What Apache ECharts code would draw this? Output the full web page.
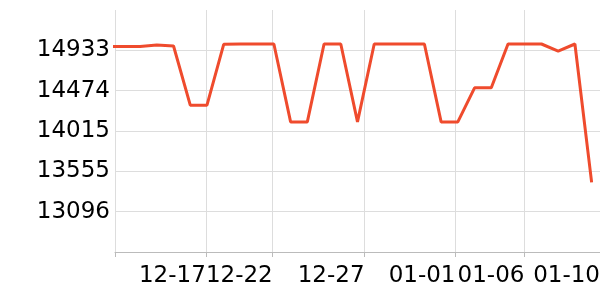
<!DOCTYPE html>
<html>
<head>
<meta charset="utf-8">
<script src="https://cdn.jsdelivr.net/npm/echarts@6/dist/echarts.min.js"></script>
<style>
html,body{margin:0;padding:0;background:#fff;}
#chart{width:600px;height:300px;}
</style>
</head>
<body>
<div id="chart"></div>
<script>
// x positions of samples (sample index; -1 lies just left of the visible window)
const sampleIndex = [-1, 0, 1, 2, 3, 4, 5, 6, 7, 8, 9, 10, 11, 12, 13, 14, 15, 16, 17, 18, 19, 20, 21, 22, 23, 24, 25, 26, 27, 28];
const values = [14976, 14976, 14976, 14993, 14982, 14309, 14309, 15001, 15005, 15005, 15005, 14118, 14118, 15005, 15005, 14118, 15005, 15005, 15005, 15005, 14118, 14118, 14506, 14506, 15005, 15005, 15005, 14925, 15005, 13430];
// x tick positions (in sample-index units) and their date labels
const xTickValues = [4.93, 8.93, 14.42, 19.86, 23.98, 28.5];
const xTickLabels = ['12-17', '12-22', '12-27', '01-01', '01-06', '01-10'];
const xMin = -0.5, xMax = 28.5;
// y ticks
const yTickValues = [13096, 13555, 14015, 14474, 14933];
const yMin = 12637, yMax = 15392;

const seriesData = sampleIndex.map((x, i) => [x, values[i]]);
const xLabelMap = {};
xTickValues.forEach((v, i) => { xLabelMap[v] = xTickLabels[i]; });
const xGridValues = [xMin].concat(xTickValues.filter(v => v < xMax));

const chart = echarts.init(document.getElementById('chart'), null, {renderer: 'canvas'});
chart.setOption({
  animation: false,
  backgroundColor: '#ffffff',
  grid: {left: 115, right: 0, top: 10, bottom: 48, containLabel: false, outerBoundsMode: 'none'},
  xAxis: {
    type: 'value',
    min: xMin,
    max: xMax,
    axisLine: {show: true, lineStyle: {color: '#bbbbbb', width: 1}},
    axisTick: {show: true, length: 5, lineStyle: {color: '#bbbbbb'}, customValues: xGridValues},
    splitLine: {show: true, lineStyle: {color: '#dddddd', width: 1}},
    axisLabel: {
      customValues: xTickValues,
      formatter: v => xLabelMap[v] || '',
      align: 'right',
      hideOverlap: false,
      margin: 13,
      color: '#000',
      fontFamily: 'DejaVu Sans',
      fontSize: 23
    }
  },
  yAxis: {
    type: 'value',
    min: yMin,
    max: yMax,
    axisLine: {show: false},
    axisTick: {show: false, customValues: yTickValues},
    splitLine: {show: true, lineStyle: {color: '#dddddd', width: 1}},
    axisLabel: {
      customValues: yTickValues,
      formatter: v => String(Math.round(v)),
      hideOverlap: false,
      margin: 5,
      color: '#000',
      fontFamily: 'DejaVu Sans',
      fontSize: 23
    }
  },
  series: [{
    type: 'line',
    data: seriesData,
    showSymbol: false,
    clip: true,
    lineStyle: {color: '#ef4b2d', width: 3},
    itemStyle: {color: '#ef4b2d'}
  }]
});
</script>
</body>
</html>
